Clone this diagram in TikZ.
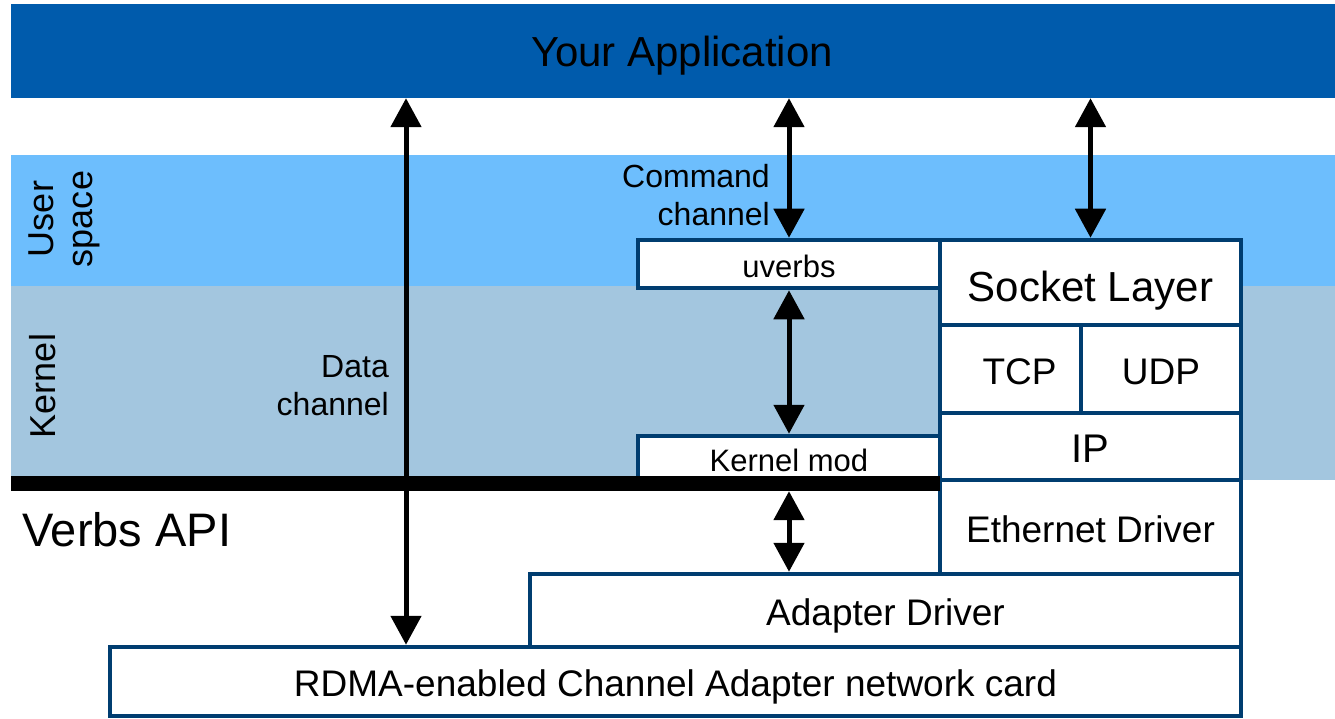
\documentclass[tikz,border=0pt]{standalone}
\usepackage{fontspec}
\setmainfont{Liberation Sans}
\usetikzlibrary{arrows.meta}
\definecolor{appblue}{RGB}{0,91,172}
\definecolor{userblue}{RGB}{109,190,253}
\definecolor{kernblue}{RGB}{163,198,223}
\definecolor{navy}{RGB}{0,61,112}
\begin{document}
\begin{tikzpicture}[x=1pt,y=-1pt,
  layerbox/.style={draw=navy, line width=4.5pt, fill=white, inner sep=0pt, text depth=0pt},
  fbig/.style={font=\fontsize{42}{50}\selectfont, text height=38pt},
  fmid/.style={font=\fontsize{37}{44}\selectfont, text height=30.5pt},
  fip/.style={font=\fontsize{40}{48}\selectfont, text height=31.6pt},
  fsmall/.style={font=\fontsize{31}{37}\selectfont, text height=26pt},
  dblarrow/.style={line width=5pt, {Triangle[width=30pt,length=29pt]}-{Triangle[width=30pt,length=29pt]}},
  bandlabel/.style={font=\fontsize{36}{39}\selectfont, rotate=90, inner sep=0pt, align=center},
  chanlabel/.style={font=\fontsize{32}{38}\selectfont, inner sep=0pt, align=right}
]
\useasboundingbox (0,0) rectangle (1335,719);
% bands
\fill[userblue] (11,155) rectangle (1335,286);
\fill[kernblue] (11,286) rectangle (1335,480);
% application bar
\node[fill=appblue, inner sep=0pt, minimum width=1342pt, minimum height=94pt, font=\fontsize{42}{50}\selectfont, text height=32pt, text depth=0pt] (app) at (682,51) {Your Application};
% band labels
\node[bandlabel] (user) at (64,219) {User\\space};
\node[bandlabel, anchor=base] (kern) at (55,386) {Kernel};
% boxes
\node[layerbox, fsmall, minimum width=302pt, minimum height=48pt] (uverbs) at (789,264) {uverbs};
\node[layerbox, fsmall, minimum width=302pt, minimum height=44pt] (kmod) at (789,458) {Kernel mod};
\node[layerbox, fbig, minimum width=301pt, minimum height=85pt] (sock) at (1090.5,282.5) {Socket Layer};
\node[layerbox, fmid, minimum width=141pt, minimum height=88pt] (tcp) at (1010.5,369) {\hspace*{18pt}TCP};
\node[layerbox, fmid, minimum width=160pt, minimum height=88pt] (udp) at (1161,369) {UDP};
\node[layerbox, fip, minimum width=301pt, minimum height=67pt] (ip) at (1090.5,446.5) {IP};
\node[layerbox, fmid, minimum width=301pt, minimum height=94pt] (eth) at (1090.5,527) {Ethernet Driver};
\node[layerbox, fmid, minimum width=711pt, minimum height=73pt] (adapter) at (885.5,610.5) {Adapter Driver};
\node[layerbox, fmid, minimum width=1131pt, minimum height=69pt] (rdma) at (675.5,681.5) {RDMA-enabled Channel Adapter network card};
% verbs API bar
\node[fill=black, inner sep=0pt, minimum width=929pt, minimum height=15pt] (bar) at (475.5,483.5) {};
\node[anchor=base west, inner sep=0pt, font=\fontsize{47}{56}\selectfont] (verbs) at (22,546) {Verbs API};
% channel labels
\node[chanlabel, anchor=east] (cmdlab) at (770,195) {Command\\channel};
\node[chanlabel, anchor=east] (datalab) at (389,386) {Data\\channel};
% arrows
\draw[dblarrow] (406,0 |- app.south) -- (406,0 |- rdma.north);
\draw[dblarrow] (uverbs.north |- app.south) -- (uverbs.north);
\draw[dblarrow] (sock.north |- app.south) -- (sock.north);
\draw[dblarrow] (uverbs.south) -- (kmod.north);
\draw[dblarrow] (kmod.south |- bar.south) -- (kmod.south |- adapter.north);
\end{tikzpicture}
\end{document}
